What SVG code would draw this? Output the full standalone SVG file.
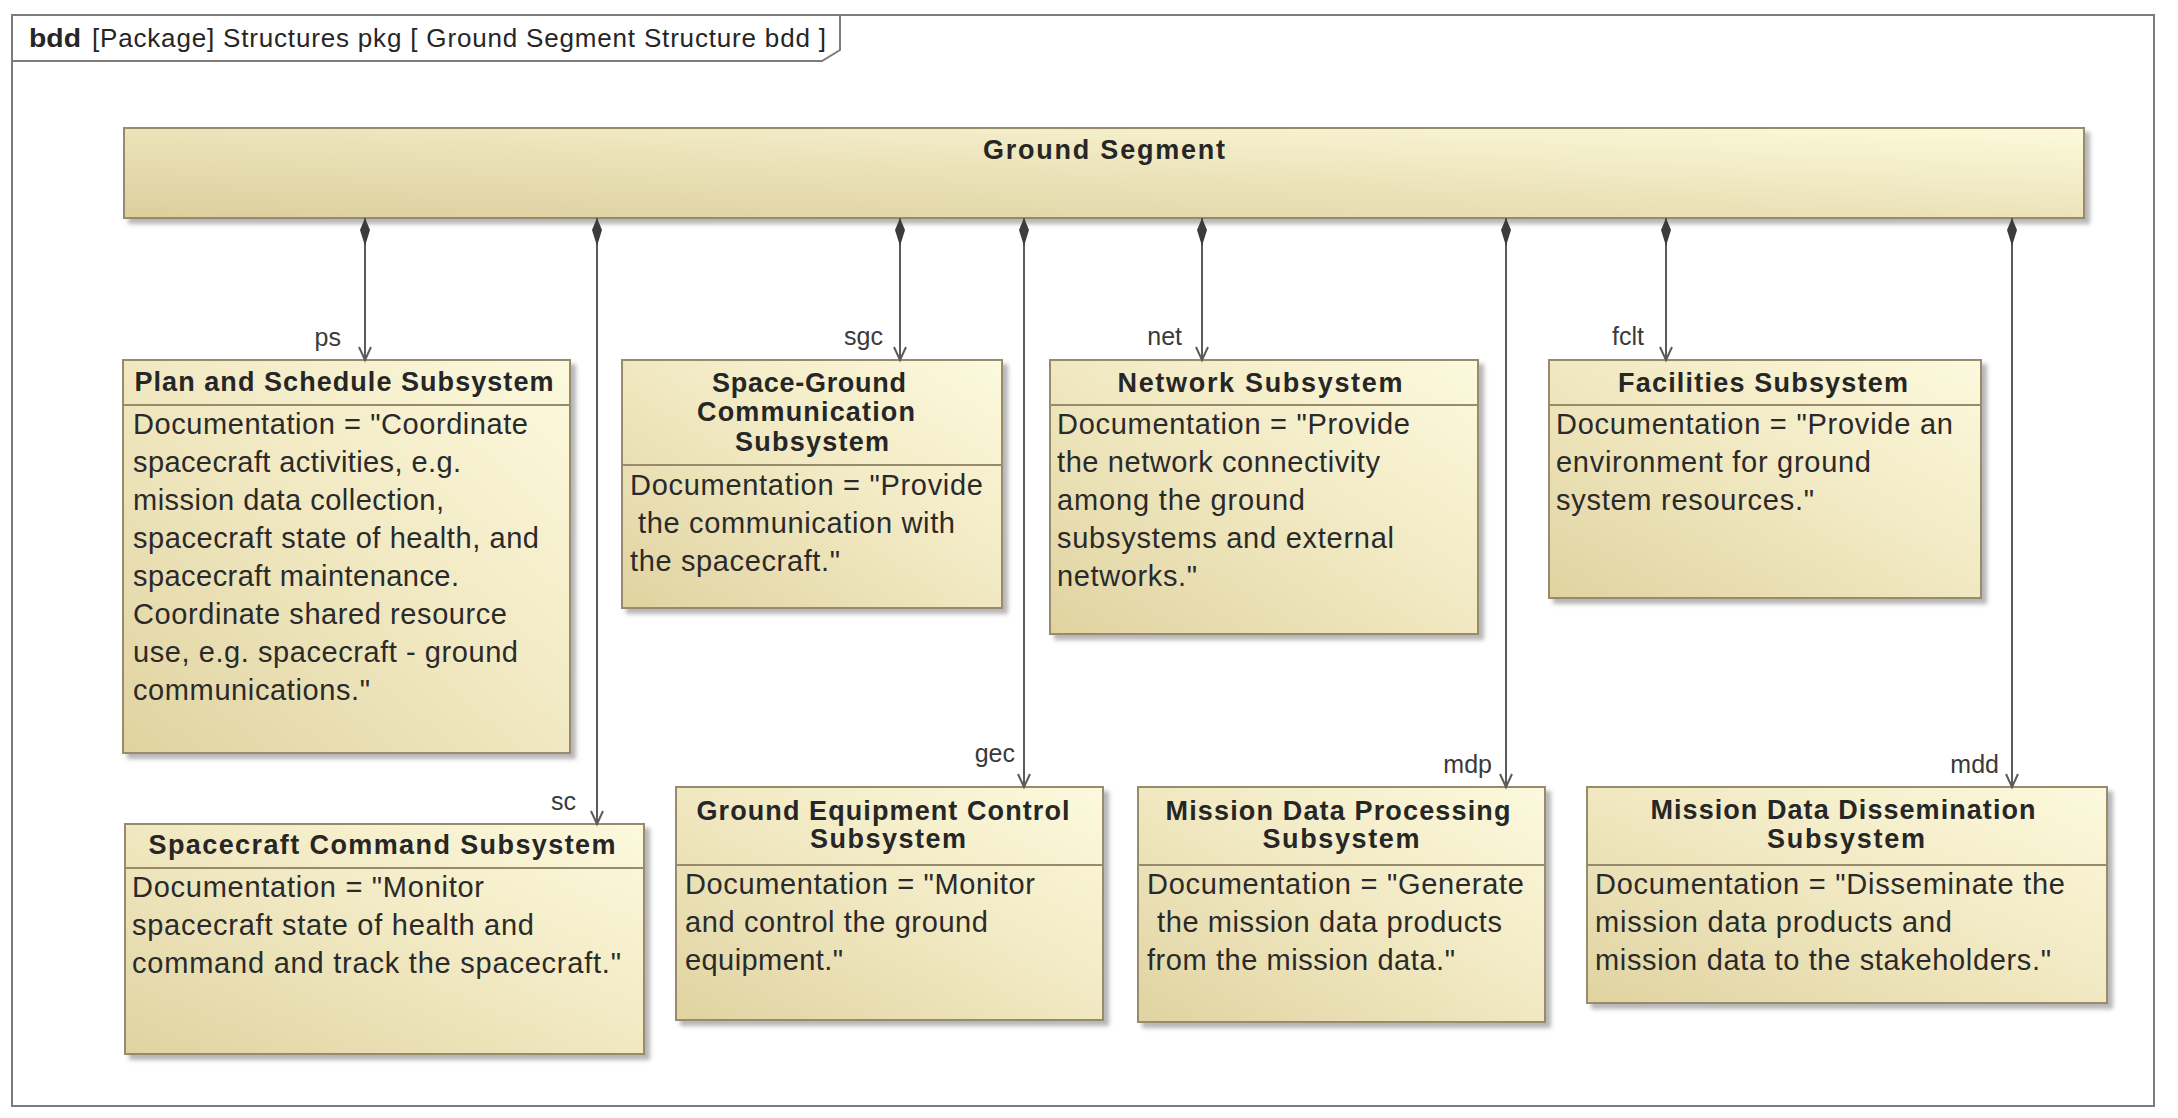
<svg xmlns="http://www.w3.org/2000/svg" width="2178" height="1118" viewBox="0 0 2178 1118">
<style>
.frame{fill:none;stroke:#7c7c7c;stroke-width:2}
.tab{fill:#ffffff;stroke:#7c7c7c;stroke-width:2}
.box{stroke:#978b6c;stroke-width:2;fill:url(#gb);filter:url(#sh)}
.gs{stroke:#978b6c;stroke-width:2;fill:url(#gg);filter:url(#sh)}
.dv{stroke:#978b6c;stroke-width:2}
.t{font-family:"Liberation Sans",Arial,sans-serif;font-weight:bold;font-size:27px;fill:#262626;text-anchor:middle}
.d{font-family:"Liberation Sans",Arial,sans-serif;font-size:29px;fill:#2a2a2a}
.lbl{font-family:"Liberation Sans",Arial,sans-serif;font-size:25px;fill:#3a3a3a;text-anchor:end}
.hd{font-family:"Liberation Sans",Arial,sans-serif;font-size:26px;fill:#262626}
.conn{stroke:#5c5c5c;stroke-width:2;fill:none;marker-start:url(#dia);marker-end:url(#arr)}
</style>
<defs>
<linearGradient id="gb" x1="0" y1="1" x2="1" y2="0">
<stop offset="0" stop-color="#e0d3a1"/>
<stop offset="0.55" stop-color="#f2eac4"/>
<stop offset="1" stop-color="#fcf9dd"/>
</linearGradient>
<linearGradient id="gg" x1="0" y1="1" x2="1" y2="0">
<stop offset="0" stop-color="#dccf9e"/>
<stop offset="0.5" stop-color="#ece3ba"/>
<stop offset="1" stop-color="#fcfadb"/>
</linearGradient>
<filter id="sh" x="-5%" y="-5%" width="115%" height="130%">
<feDropShadow dx="5" dy="5" stdDeviation="2" flood-color="#7a7a7a" flood-opacity="0.55"/>
</filter>
<marker id="dia" markerUnits="userSpaceOnUse" markerWidth="40" markerHeight="20" refX="0" refY="0" orient="auto" overflow="visible">
<path d="M0,0 L12,-5 L28,0 L12,5 Z" fill="#3c3c3c"/>
</marker>
<marker id="arr" markerUnits="userSpaceOnUse" markerWidth="20" markerHeight="20" refX="0" refY="0" orient="auto" overflow="visible">
<path d="M-13,-6 L0,0 L-13,6" fill="none" stroke="#5c5c5c" stroke-width="2"/>
</marker>
</defs>
<rect width="2178" height="1118" fill="#ffffff"/>
<g id="frame">
<rect class="frame" x="12" y="15" width="2142" height="1091"/>
<path class="tab" d="M12,15 L840,15 L840,50 L822,61 L12,61 Z"/>
<text class="hd" x="29" y="47" font-weight="bold" textLength="52" lengthAdjust="spacingAndGlyphs">bdd</text>
<text class="hd" x="92" y="47" textLength="734" lengthAdjust="spacing">[Package] Structures pkg [ Ground Segment Structure bdd ]</text>
</g>
<g id="ground-segment">
<rect class="gs" x="124" y="128" width="1960" height="90"/>
<text class="t" x="1104" y="159" textLength="242">Ground Segment</text>
</g>
<g id="plan-schedule">
<rect class="box" x="123" y="360" width="447" height="393"/>
<line class="dv" x1="123" y1="405" x2="570" y2="405"/>
<text class="t" x="344" y="391" textLength="419">Plan and Schedule Subsystem</text>
<text class="d" x="133" y="434" textLength="395">Documentation = "Coordinate</text>
<text class="d" x="133" y="472" textLength="328">spacecraft activities, e.g.</text>
<text class="d" x="133" y="510" textLength="311">mission data collection,</text>
<text class="d" x="133" y="548" textLength="406">spacecraft state of health, and</text>
<text class="d" x="133" y="586" textLength="326">spacecraft maintenance.</text>
<text class="d" x="133" y="624" textLength="374">Coordinate shared resource</text>
<text class="d" x="133" y="662" textLength="385">use, e.g. spacecraft - ground</text>
<text class="d" x="133" y="700" textLength="237">communications."</text>
</g>
<g id="space-ground">
<rect class="box" x="622" y="360" width="380" height="248"/>
<line class="dv" x1="622" y1="465" x2="1002" y2="465"/>
<text class="t" x="809" y="392" textLength="194">Space-Ground</text>
<text class="t" x="806" y="421" textLength="218">Communication</text>
<text class="t" x="812" y="451" textLength="154">Subsystem</text>
<text class="d" x="630" y="495" textLength="353">Documentation = "Provide</text>
<text class="d" x="638" y="533" textLength="317">the communication with</text>
<text class="d" x="630" y="571" textLength="210">the spacecraft."</text>
</g>
<g id="network">
<rect class="box" x="1050" y="360" width="428" height="274"/>
<line class="dv" x1="1050" y1="405" x2="1478" y2="405"/>
<text class="t" x="1260" y="392" textLength="285">Network Subsystem</text>
<text class="d" x="1057" y="434" textLength="353">Documentation = "Provide</text>
<text class="d" x="1057" y="472" textLength="323">the network connectivity</text>
<text class="d" x="1057" y="510" textLength="248">among the ground</text>
<text class="d" x="1057" y="548" textLength="337">subsystems and external</text>
<text class="d" x="1057" y="586" textLength="140">networks."</text>
</g>
<g id="facilities">
<rect class="box" x="1549" y="360" width="432" height="238"/>
<line class="dv" x1="1549" y1="405" x2="1981" y2="405"/>
<text class="t" x="1763" y="392" textLength="290">Facilities Subsystem</text>
<text class="d" x="1556" y="434" textLength="397">Documentation = "Provide an</text>
<text class="d" x="1556" y="472" textLength="315">environment for ground</text>
<text class="d" x="1556" y="510" textLength="258">system resources."</text>
</g>
<g id="spacecraft-command">
<rect class="box" x="125" y="824" width="519" height="230"/>
<line class="dv" x1="125" y1="868" x2="644" y2="868"/>
<text class="t" x="382" y="854" textLength="467">Spacecraft Command Subsystem</text>
<text class="d" x="132" y="897" textLength="352">Documentation = "Monitor</text>
<text class="d" x="132" y="935" textLength="402">spacecraft state of health and</text>
<text class="d" x="132" y="973" textLength="489">command and track the spacecraft."</text>
</g>
<g id="ground-equipment">
<rect class="box" x="676" y="787" width="427" height="233"/>
<line class="dv" x1="676" y1="865" x2="1103" y2="865"/>
<text class="t" x="883" y="820" textLength="373">Ground Equipment Control</text>
<text class="t" x="888" y="848" textLength="156">Subsystem</text>
<text class="d" x="685" y="894" textLength="350">Documentation = "Monitor</text>
<text class="d" x="685" y="932" textLength="303">and control the ground</text>
<text class="d" x="685" y="970" textLength="158">equipment."</text>
</g>
<g id="mission-data-processing">
<rect class="box" x="1138" y="787" width="407" height="235"/>
<line class="dv" x1="1138" y1="865" x2="1545" y2="865"/>
<text class="t" x="1338" y="820" textLength="345">Mission Data Processing</text>
<text class="t" x="1341" y="848" textLength="157">Subsystem</text>
<text class="d" x="1147" y="894" textLength="377">Documentation = "Generate</text>
<text class="d" x="1157" y="932" textLength="345">the mission data products</text>
<text class="d" x="1147" y="970" textLength="308">from the mission data."</text>
</g>
<g id="mission-data-dissemination">
<rect class="box" x="1587" y="787" width="520" height="216"/>
<line class="dv" x1="1587" y1="865" x2="2107" y2="865"/>
<text class="t" x="1843" y="819" textLength="385">Mission Data Dissemination</text>
<text class="t" x="1846" y="848" textLength="158">Subsystem</text>
<text class="d" x="1595" y="894" textLength="470">Documentation = "Disseminate the</text>
<text class="d" x="1595" y="932" textLength="357">mission data products and</text>
<text class="d" x="1595" y="970" textLength="456">mission data to the stakeholders."</text>
</g>
<g id="connectors">
<path class="conn" d="M365,218 V360"/>
<path class="conn" d="M597,218 V824"/>
<path class="conn" d="M900,218 V360"/>
<path class="conn" d="M1024,218 V787"/>
<path class="conn" d="M1202,218 V360"/>
<path class="conn" d="M1506,218 V787"/>
<path class="conn" d="M1666,218 V360"/>
<path class="conn" d="M2012,218 V787"/>
<text class="lbl" x="341" y="346">ps</text>
<text class="lbl" x="576" y="810">sc</text>
<text class="lbl" x="883" y="345">sgc</text>
<text class="lbl" x="1015" y="762">gec</text>
<text class="lbl" x="1182" y="345">net</text>
<text class="lbl" x="1492" y="773">mdp</text>
<text class="lbl" x="1644" y="345">fclt</text>
<text class="lbl" x="1999" y="773">mdd</text>
</g>
</svg>
